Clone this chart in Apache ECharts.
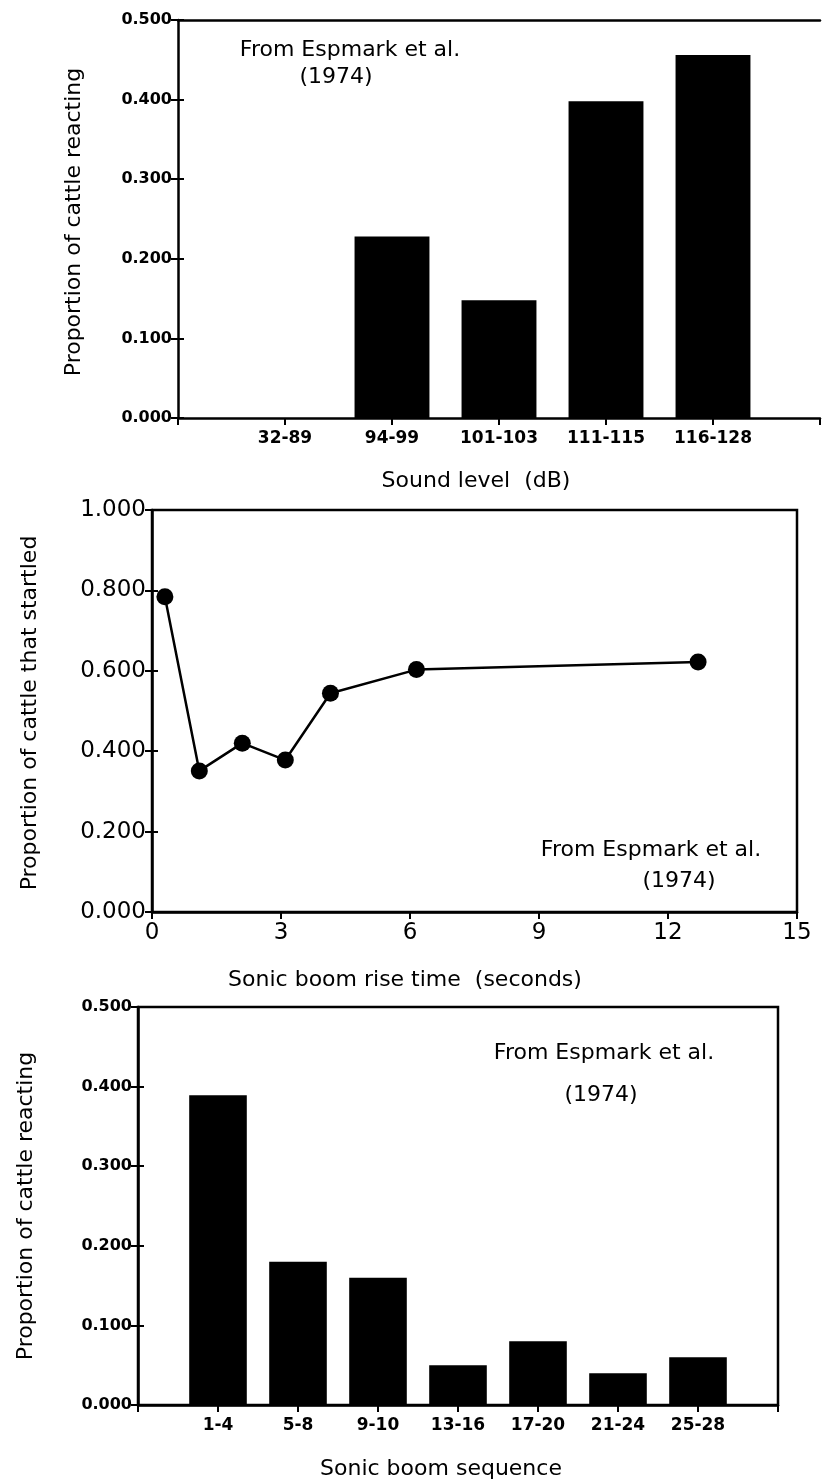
<!DOCTYPE html>
<html>
<head>
<meta charset="utf-8">
<script src="https://cdn.jsdelivr.net/npm/echarts@6/dist/echarts.min.js"></script>
<style>
html,body{margin:0;padding:0;background:#fff;}
#chart{width:825px;height:1483px;}
</style>
</head>
<body>
<div id="chart"></div>
<script>
// ---- Data ----
const soundLevels = ['32-89', '94-99', '101-103', '111-115', '116-128'];
const propReacting1 = [0, 0.228, 0.148, 0.398, 0.456];

const riseTime = [0.3, 1.1, 2.1, 3.1, 4.15, 6.15, 12.7];
const propStartled = [0.784, 0.351, 0.42, 0.378, 0.544, 0.603, 0.622];

const boomSequence = ['1-4', '5-8', '9-10', '13-16', '17-20', '21-24', '25-28'];
const propReacting3 = [0.389, 0.18, 0.16, 0.05, 0.08, 0.04, 0.06];

const titles = {
  y1: 'Proportion of cattle reacting',
  x1: 'Sound level  (dB)',
  y2: 'Proportion of cattle that startled',
  x2: 'Sonic boom rise time  (seconds)',
  y3: 'Proportion of cattle reacting',
  x3: 'Sonic boom sequence',
  src: 'From Espmark et al.',
  year: '(1974)'
};

// padded category lists so categories sit between empty end slots
const pad = arr => [''].concat(arr, ['']);
const padV = arr => [null].concat(arr, [null]);

const FONT = '"DejaVu Sans", sans-serif';
const LINE = {color: '#000', width: 2.5};
const TICK = {color: '#000', width: 2};

const chart = echarts.init(document.getElementById('chart'), null, {renderer: 'canvas'});

function catX(gi, cats) {
  return {
    type: 'category', gridIndex: gi, data: pad(cats), boundaryGap: false,
    axisLine: {lineStyle: LINE},
    axisTick: {show: true, length: 7, lineStyle: TICK},
    axisLabel: {color: '#000', fontFamily: FONT, fontWeight: 'bold', fontSize: 17, margin: 12, interval: 0},
    splitLine: {show: false}
  };
}
function valY(gi, max, interval, fs, bold) {
  return {
    type: 'value', gridIndex: gi, min: 0, max: max, interval: interval,
    axisLine: {show: true, lineStyle: LINE},
    axisTick: {show: true, length: 7, lineStyle: TICK},
    axisLabel: {color: '#000', fontFamily: FONT, fontSize: fs, fontWeight: bold ? 'bold' : 'normal', margin: 6,
      formatter: v => v.toFixed(3)},
    splitLine: {show: false}
  };
}
// inner half of the crossing tick marks
function innerY(gi, max, interval) {
  return {
    type: 'value', gridIndex: gi, min: 0, max: max, interval: interval, position: 'left',
    axisLine: {show: false}, axisLabel: {show: false}, splitLine: {show: false},
    axisTick: {show: true, inside: true, length: 6, lineStyle: TICK}
  };
}
function txt(x, y, s, size, extra) {
  return Object.assign({
    type: 'text', x: x, y: y,
    style: {text: s, fill: '#000', font: 'normal ' + size + 'px ' + FONT, align: 'center', verticalAlign: 'middle'}
  }, extra || {});
}

const option = {
  backgroundColor: '#fff',
  animation: false,
  grid: [
    {left: 178, top: 20, width: 642, height: 398},
    {left: 152, top: 510, width: 645, height: 402, show: true, borderColor: '#000', borderWidth: 2.5},
    {left: 138, top: 1007, width: 640, height: 398, show: true, borderColor: '#000', borderWidth: 2.5}
  ],
  xAxis: [
    catX(0, soundLevels),
    {type: 'value', gridIndex: 0, position: 'top', min: 0, max: 1,
      axisLine: {show: true, onZero: false, lineStyle: LINE}, axisTick: {show: false}, axisLabel: {show: false}, splitLine: {show: false}},
    {type: 'value', gridIndex: 1, min: 0, max: 15, interval: 3,
      axisLine: {lineStyle: LINE},
      axisTick: {show: true, length: 7, lineStyle: TICK},
      axisLabel: {color: '#000', fontFamily: FONT, fontSize: 23, margin: 10},
      splitLine: {show: false}},
    catX(2, boomSequence)
  ],
  yAxis: [
    valY(0, 0.5, 0.1, 16, true),
    valY(1, 1.0, 0.2, 23, false),
    valY(2, 0.5, 0.1, 16, true),
    innerY(0, 0.5, 0.1),
    innerY(1, 1.0, 0.2),
    innerY(2, 0.5, 0.1)
  ],
  series: [
    {type: 'bar', xAxisIndex: 0, yAxisIndex: 0, data: padV(propReacting1), barWidth: '70%',
      itemStyle: {color: '#000'}},
    {type: 'line', xAxisIndex: 2, yAxisIndex: 1,
      data: riseTime.map((t, i) => [t, propStartled[i]]),
      symbol: 'circle', symbolSize: 17, lineStyle: {color: '#000', width: 2.5},
      itemStyle: {color: '#000'}},
    {type: 'bar', xAxisIndex: 3, yAxisIndex: 2, data: padV(propReacting3), barWidth: '72%',
      itemStyle: {color: '#000'}}
  ],
  graphic: [
    // panel 1
    txt(74, 222, titles.y1, 22, {rotation: Math.PI / 2}),
    txt(476, 481, titles.x1, 22),
    txt(350, 50, titles.src, 22),
    txt(336, 77, titles.year, 22),
    // panel 2
    txt(30, 713, titles.y2, 22, {rotation: Math.PI / 2}),
    txt(405, 980, titles.x2, 22),
    txt(651, 850, titles.src, 22),
    txt(679, 881, titles.year, 22),
    // panel 3
    txt(26, 1206, titles.y3, 22, {rotation: Math.PI / 2}),
    txt(441, 1469, titles.x3, 22),
    txt(604, 1053, titles.src, 22),
    txt(601, 1095, titles.year, 22)
  ]
};
chart.setOption(option);
</script>
</body>
</html>
